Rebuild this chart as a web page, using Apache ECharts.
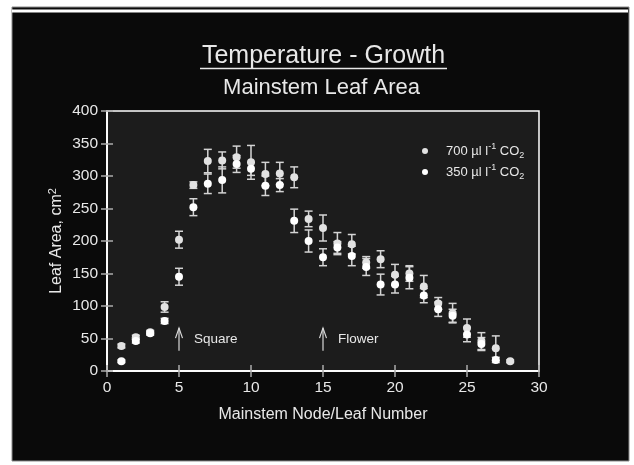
<!DOCTYPE html>
<html><head><meta charset="utf-8">
<script src="https://cdn.jsdelivr.net/npm/echarts@6/dist/echarts.min.js"></script>
<style>html,body{margin:0;padding:0;background:#fff}#c{width:634px;height:465px}</style>
</head><body><div id="c"></div>
<script>
const nodes = [1,2,3,4,5,6,7,8,9,10,11,12,13,14,15,16,17,18,19,20,21,22,23,24,25,26,27,28];
const area700 = [38.5,52,59.5,98.5,202,286,323,324,329,321,303,304,298,234,220,196,195,167,172,148,150,130,104,89,66,46,35,15];
const err700  = [3,3,3,8,13,5,18,13,17,26,18,17,16,12,20,17,15,9,13,16,12,17,9,15,14,13,19,2];
const area350 = [15,46,58,77,145,252,288,294,318.5,311,285,286,231,200,175,190,177,160,133,133,143.5,116,95,85,56,41.5,17,null];
const err350  = [2,3,3,4,13,13,15,20,13,10,15,10,18,17,13,9,15,13,16,13,17,11,11,10,11,10,4,null];
const xTicks = [0,5,10,15,20,25,30];
const yTicks = [0,50,100,150,200,250,300,350,400];
const seriesNames = ['700', '350'];
const annotations = [{x:5, label:'Square'}, {x:15, label:'Flower'}];

const FONT = '"Liberation Sans", Arial, sans-serif';
const TXT = '#e8e8e8';

function pts(vals){ return nodes.map((n,i)=> vals[i]==null ? null : [n, vals[i]]).filter(d=>d); }
function errs(vals, e){ return nodes.map((n,i)=> vals[i]==null ? null : [n, vals[i]-e[i], vals[i]+e[i]]).filter(d=>d); }

function errRender(params, api){
  const x = api.value(0);
  const lo = api.coord([x, api.value(1)]);
  const hi = api.coord([x, api.value(2)]);
  const w = 4;
  const st = {stroke:'#d4d4d4', lineWidth:1.5};
  return {type:'group', children:[
    {type:'line', shape:{x1:lo[0],y1:lo[1],x2:hi[0],y2:hi[1]}, style:st},
    {type:'line', shape:{x1:lo[0]-w,y1:lo[1],x2:lo[0]+w,y2:lo[1]}, style:st},
    {type:'line', shape:{x1:hi[0]-w,y1:hi[1],x2:hi[0]+w,y2:hi[1]}, style:st}
  ]};
}

function annRender(params, api){
  const a = annotations[params.dataIndex];
  const bot = api.coord([a.x, 31]);
  const top = api.coord([a.x, 66]);
  const mid = api.coord([a.x, 49]);
  const st = {stroke:'#d8d8d8', lineWidth:1.2, fill:null};
  return {type:'group', children:[
    {type:'line', shape:{x1:bot[0],y1:bot[1],x2:top[0],y2:top[1]}, style:st},
    {type:'polyline', shape:{points:[[top[0]-3.5,top[1]+10],[top[0],top[1]],[top[0]+3.5,top[1]+10]]}, style:st},
    {type:'text', x: top[0]+15, y: mid[1], style:{text:a.label, fill:TXT, font:'13.5px '+FONT, verticalAlign:'middle', align:'left'}}
  ]};
}

const rich = {
  a:{fontSize:13, fontFamily:FONT, color:TXT, lineHeight:18, verticalAlign:'middle'},
  s:{fontSize:9, fontFamily:FONT, color:TXT, verticalAlign:'top', lineHeight:10},
  b:{fontSize:9, fontFamily:FONT, color:TXT, verticalAlign:'bottom', lineHeight:8}
};

const chart = echarts.init(document.getElementById('c'), null, {renderer:'canvas'});
const axisLine = {show:true, lineStyle:{color:'#ffffff', width:1.5}};
const tick = {show:true, inside:true, length:6, lineStyle:{color:'#aaaaaa', width:1.5}};
chart.setOption({
  backgroundColor:'#ffffff',
  animation:false,
  graphic:[
    {type:'rect', shape:{x:12,y:7,width:617,height:454}, style:{fill:'#0a0a0a', stroke:'#8a8a8a', lineWidth:1}, z:-10},
    {type:'rect', shape:{x:12,y:9.5,width:616,height:3}, style:{fill:'#ffffff'}, z:-9},
    {type:'text', x:323.5, y:56, style:{text:'Temperature - Growth', fill:TXT, font:'25px '+FONT, align:'center', verticalAlign:'middle'}},
    {type:'line', shape:{x1:200,y1:68.5,x2:447,y2:68.5}, style:{stroke:TXT, lineWidth:1.5}},
    {type:'text', x:321.5, y:87.5, style:{text:'Mainstem Leaf Area', fill:TXT, font:'22px '+FONT, align:'center', verticalAlign:'middle'}}
  ],
  grid:{left:107, top:111, right:95, bottom:94, show:true, backgroundColor:'#1c1c1c', borderColor:'#ffffff', borderWidth:1.5},
  legend:{
    orient:'vertical', left:417, top:137, itemWidth:6, itemHeight:6, itemGap:3, icon:'circle',
    data: seriesNames,
    formatter: n => '{a|' + n + ' µl l}{s|-1}{a| CO}{b|2}',
    textStyle:{color:TXT, fontSize:13, fontFamily:FONT, rich:rich, padding:[0,0,0,13]}
  },
  xAxis:[
    {type:'value', min:0, max:30, interval:5, position:'bottom',
     name:'Mainstem Node/Leaf Number', nameLocation:'middle', nameGap:36, nameMoveOverlap:false,
     nameTextStyle:{color:TXT, fontSize:16, fontFamily:FONT},
     axisLine:axisLine, axisTick:tick, splitLine:{show:false},
     axisLabel:{color:TXT, fontSize:15.5, fontFamily:FONT, margin:9}},
    {type:'value', min:0, max:30, interval:5, position:'top',
     axisLine:axisLine, axisTick:tick, splitLine:{show:false}, axisLabel:{show:false}}
  ],
  yAxis:[
    {type:'value', min:0, max:400, interval:50, position:'left',
     name:'{n|Leaf Area, cm}{t|2}', nameLocation:'middle', nameGap:40, nameMoveOverlap:false,
     nameTextStyle:{color:TXT, fontSize:16, fontFamily:FONT, rich:{
       n:{fontSize:16, fontFamily:FONT, color:TXT, lineHeight:20, verticalAlign:'middle'},
       t:{fontSize:11, fontFamily:FONT, color:TXT, lineHeight:12, verticalAlign:'top'}}},
     axisLine:axisLine, axisTick:tick, splitLine:{show:false},
     axisLabel:{color:TXT, fontSize:15.5, fontFamily:FONT, margin:9}},
    {type:'value', min:0, max:400, interval:50, position:'right',
     axisLine:axisLine, axisTick:tick, splitLine:{show:false}, axisLabel:{show:false}}
  ],
  series:[
    {type:'custom', name:'err700', renderItem:errRender, data:errs(area700, err700), z:2, encode:{x:0,y:[1,2]}, silent:true},
    {type:'custom', name:'err350', renderItem:errRender, data:errs(area350, err350), z:2, encode:{x:0,y:[1,2]}, silent:true},
    {type:'scatter', name:'700', data:pts(area700), symbol:'circle', symbolSize:8, itemStyle:{color:'#e2e2e2', opacity:1}, z:3},
    {type:'scatter', name:'350', data:pts(area350), symbol:'circle', symbolSize:8, itemStyle:{color:'#ffffff', opacity:1}, z:3},
    {type:'custom', name:'ann', renderItem:annRender, data:annotations.map(a=>[a.x, 49]), z:4, silent:true}
  ]
});
</script></body></html>
